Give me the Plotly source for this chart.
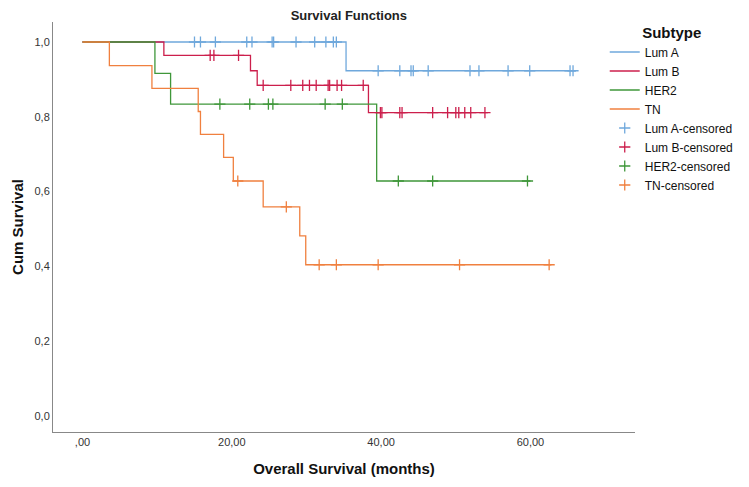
import plotly.graph_objects as go

# Kaplan-Meier step points (time in months, cumulative survival)
luma_t = [0, 35.3, 66.1]
luma_s = [1.0, 0.923, 0.923]
luma_cens = [15.0, 15.8, 17.8, 22.0, 22.7, 25.4, 25.6, 28.6, 31.1, 32.6, 33.6, 34.0,
             39.6, 42.5, 44.0, 44.3, 46.3, 51.9, 53.1, 57.0, 59.9, 65.3, 65.7]

lumb_t = [0, 10.9, 22.5, 23.4, 38.3, 54.3]
lumb_s = [1.0, 0.964, 0.923, 0.884, 0.811, 0.811]
lumb_cens = [17.1, 17.6, 20.9, 24.2, 27.9, 29.5, 30.4, 31.3, 32.9, 33.1, 34.1, 34.7,
             37.6, 39.9, 40.1, 42.5, 42.8, 46.9, 48.9, 50.0, 50.4, 51.2, 52.0, 53.9]

her2_t = [0, 9.7, 11.8, 39.4, 60.0]
her2_s = [1.0, 0.916, 0.834, 0.628, 0.628]
her2_cens = [18.4, 22.4, 24.9, 25.5, 32.5, 34.8, 42.3, 46.9, 59.6]

tn_t = [0, 3.6, 9.3, 15.5, 15.8, 18.9, 20.2, 24.2, 29.1, 29.9, 62.8]
tn_s = [1.0, 0.937, 0.876, 0.814, 0.753, 0.691, 0.628, 0.559, 0.481, 0.404, 0.404]
tn_cens = [20.8, 27.3, 31.7, 34.0, 39.6, 50.5, 62.5]

groups = ["Lum A", "Lum B", "HER2", "TN"]
colors = ["#6fa8dc", "#cc1f4c", "#3f973a", "#f0803f"]

x_ticks = [0, 20, 40, 60]
x_labels = [",00", "20,00", "40,00", "60,00"]
y_ticks = [0, 0.2, 0.4, 0.6, 0.8, 1.0]
y_labels = ["0,0", "0,2", "0,4", "0,6", "0,8", "1,0"]


def surv_at(t, times, surv):
    s = surv[0]
    for ti, si in zip(times, surv):
        if ti <= t:
            s = si
    return s


curves = [(luma_t, luma_s, luma_cens), (lumb_t, lumb_s, lumb_cens),
          (her2_t, her2_s, her2_cens), (tn_t, tn_s, tn_cens)]

fig = go.Figure()
for name, col, (t, s, c) in zip(groups, colors, curves):
    fig.add_trace(go.Scatter(x=t, y=s, mode="lines", name=name,
                             line=dict(color=col, width=1.3, shape="hv")))
for name, col, (t, s, c) in zip(groups, colors, curves):
    fig.add_trace(go.Scatter(x=c, y=[surv_at(v, t, s) for v in c], mode="markers",
                             name=name + "-censored",
                             marker=dict(symbol="cross-thin", size=8, color=col,
                                         line=dict(color=col, width=1.3))))

# page body adds an 8px margin, so the figure is 8px smaller on each side
fig.update_layout(
    width=741, height=479,
    margin=dict(l=45, r=114, t=14, b=55, autoexpand=False),
    paper_bgcolor="white", plot_bgcolor="white",
    font=dict(family="Liberation Sans, Arial", size=11, color="#333333"),
    title=dict(text="<b>Survival Functions</b>", x=0.46, xanchor="center",
               y=0.984, yanchor="middle", font=dict(size=13, color="#222222")),
    legend=dict(x=0.948, xanchor="left", y=1.0097, yanchor="top",
                title=dict(text="<b>Subtype</b>", side="top center",
                           font=dict(size=15, color="#111111")),
                font=dict(size=12, color="#111111"),
                bgcolor="rgba(0,0,0,0)", itemwidth=30),
    xaxis=dict(range=[-3.95, 74.0], tickvals=x_ticks, ticktext=x_labels,
               showgrid=False, zeroline=False, showline=True, linecolor="#888888",
               linewidth=1, ticks="", ticklen=0,
               title=dict(text="<b>Overall Survival (months)</b>", standoff=16,
                          font=dict(size=15, color="#111111"))),
    yaxis=dict(range=[-0.0436, 1.0535], tickvals=y_ticks, ticktext=y_labels,
               showgrid=False, zeroline=False, showline=True, linecolor="#888888",
               linewidth=1, ticks="", ticklen=0,
               title=dict(text="<b>Cum Survival</b>", standoff=7,
                          font=dict(size=15, color="#111111"))),
)

fig.write_html("out.html")
